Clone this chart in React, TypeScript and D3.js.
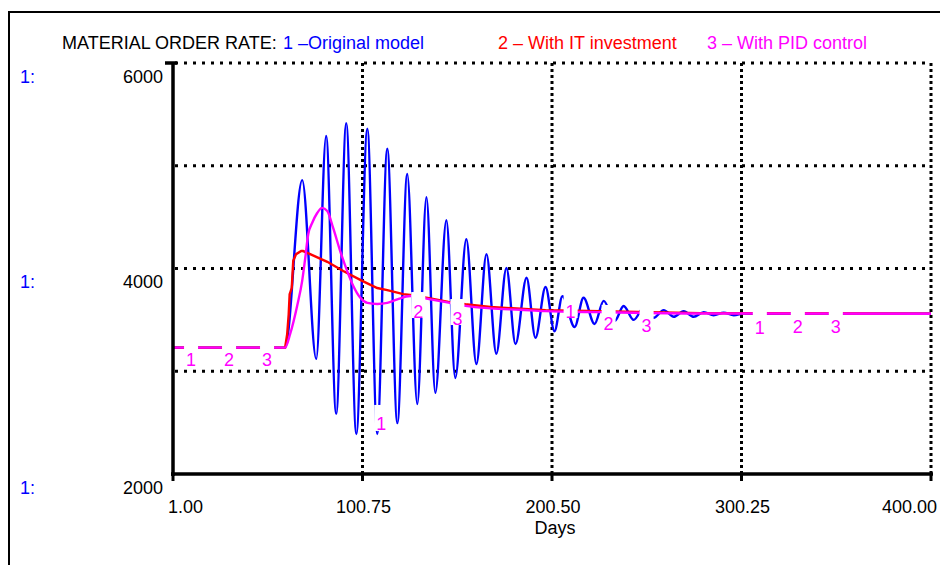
import React, { useEffect, useRef } from "react";
import * as d3 from "d3";

const width = 940;
const height = 565;

// 1 – Original model (turning points of the oscillation)
const originalDays = [
  1, 60, 69, 76.4, 81.6, 86.9, 92.2, 97.5, 103.3, 108.5, 113.8, 119.1, 124.3,
  129.6, 134.4, 139.1, 144.9, 149.6, 155.4, 160.7, 166, 171.2, 176.5, 181.3,
  187.1, 191.8, 197.1, 201.8, 206, 212.4, 217.1, 222.9, 227.7, 233.5, 238.2,
  243.5, 248.7, 254, 259.3, 264.6, 269.8, 275.1, 280.4, 285.6, 290.9, 296.2,
  301.4, 310.4, 400,
];
const originalValues = [
  3230, 3230, 4860, 3120, 5290, 2585, 5415, 2390, 5360, 2390, 5165, 2495, 4920,
  2680, 4695, 2790, 4470, 2935, 4285, 3070, 4140, 3170, 4005, 3265, 3910, 3325,
  3820, 3390, 3730, 3430, 3715, 3460, 3685, 3490, 3635, 3500, 3615, 3520, 3595,
  3530, 3585, 3530, 3575, 3545, 3570, 3545, 3562, 3558, 3560,
];

// 2 – With IT investment
const itDays = [
  1, 60, 61.1, 61.9, 62.4, 63.5, 64.3, 65.8, 68.5, 69.5, 73.2, 82.2, 90.6,
  100.6, 108.5, 113.8, 122.2, 125.9, 136.5, 146, 154.9, 168.1, 183.9, 197.1,
  226.1, 278.8, 400,
];
const itValues = [
  3230, 3230, 3360, 3555, 3750, 3810, 4075, 4140, 4170, 4170, 4140, 4065, 3975,
  3880, 3810, 3790, 3750, 3742, 3708, 3675, 3652, 3625, 3608, 3593, 3584, 3566,
  3560,
];

// 3 – With PID control
const pidDays = [
  1, 60, 62.7, 66.4, 69, 70.6, 72.2, 74.3, 76.9, 79.5, 82.2, 85.3, 89, 92.7,
  95.9, 99.6, 103.3, 108.5, 113.8, 119.1, 125.9, 136.5, 146, 154.9, 168.1,
  183.9, 197.1, 226.1, 278.8, 400,
];
const pidValues = [
  3230, 3230, 3365, 3640, 3880, 4100, 4335, 4445, 4540, 4590, 4560, 4395, 4170,
  3975, 3830, 3715, 3665, 3655, 3665, 3700, 3732, 3700, 3668, 3636, 3612, 3598,
  3585, 3575, 3562, 3560,
];

// curve number labels along the lines
const labelTexts = ["1", "2", "3", "1", "2", "3", "1", "2", "3", "1", "2", "3"];
const labelDays = [10.5, 30.5, 50.5, 110.6, 130.1, 150.7, 210.3, 230.3, 250.3, 309.9, 329.9, 349.9];
const labelValues = [3110, 3110, 3110, 2487, 3586, 3518, 3586, 3460, 3450, 3421, 3440, 3440];

const xTicks = [1, 100.75, 200.5, 300.25, 400];
const yGrid = [3000, 4000, 5000, 6000];
const yLabels = [6000, 4000, 2000];

const font = "'Liberation Sans', Arial, sans-serif";

const App: React.FC = () => {
  const svgRef = useRef<SVGSVGElement>(null);

  useEffect(() => {
    if (!svgRef.current) return;
    const svg = d3.select(svgRef.current);
    svg.selectAll("*").remove();

    const x = d3.scaleLinear().domain([1, 400]).range([173, 931]);
    const y = d3.scaleLinear().domain([2000, 6000]).range([474, 63]);

    // outer frame (only top and left edges fall inside the picture)
    svg
      .append("path")
      .attr("d", `M9,${height} V12 H${width}`)
      .attr("fill", "none")
      .attr("stroke", "black")
      .attr("stroke-width", 2);

    // dotted grid
    const grid = svg.append("g").attr("stroke", "black").attr("stroke-width", 3);
    yGrid.forEach((v) => {
      grid
        .append("line")
        .attr("x1", x(1) + 2)
        .attr("x2", x(400))
        .attr("y1", y(v))
        .attr("y2", y(v))
        .attr("stroke-dasharray", "3,6");
    });
    xTicks.slice(1).forEach((d) => {
      grid
        .append("line")
        .attr("x1", x(d))
        .attr("x2", x(d))
        .attr("y1", y(6000))
        .attr("y2", y(2000))
        .attr("stroke-dasharray", "3,3");
    });

    // lines
    const pts = (days: number[], vals: number[]) =>
      days.map((d, i) => [d, vals[i]] as [number, number]);

    const smooth = d3
      .line<[number, number]>()
      .x((d) => x(d[0]))
      .y((d) => y(d[1]))
      .curve(d3.curveMonotoneX);
    const straight = d3
      .line<[number, number]>()
      .x((d) => x(d[0]))
      .y((d) => y(d[1]));

    svg
      .append("path")
      .attr("d", smooth(pts(originalDays, originalValues)))
      .attr("fill", "none")
      .attr("stroke", "#0000ff")
      .attr("stroke-width", 2.4);
    svg
      .append("path")
      .attr("d", straight(pts(itDays, itValues)))
      .attr("fill", "none")
      .attr("stroke", "#ff0000")
      .attr("stroke-width", 2.4);
    svg
      .append("path")
      .attr("d", smooth(pts(pidDays, pidValues)))
      .attr("fill", "none")
      .attr("stroke", "#ff00ff")
      .attr("stroke-width", 2.4);

    // number labels erase the lines under them
    labelTexts.forEach((t, i) => {
      const cx = x(labelDays[i]);
      const cy = y(labelValues[i]);
      svg
        .append("rect")
        .attr("x", cx - 7)
        .attr("y", cy - 19)
        .attr("width", 14)
        .attr("height", 26)
        .attr("fill", "white");
      svg
        .append("text")
        .attr("x", cx)
        .attr("y", cy + 6.5)
        .attr("text-anchor", "middle")
        .attr("fill", "#ff00ff")
        .style("font-family", font)
        .style("font-size", "18px")
        .text(t);
    });

    // axes
    const axis = svg.append("g").attr("stroke", "black").attr("stroke-width", 3.5);
    axis
      .append("line")
      .attr("x1", x(1))
      .attr("x2", x(1))
      .attr("y1", y(6000) - 1)
      .attr("y2", y(2000) + 2);
    axis
      .append("line")
      .attr("x1", x(1) - 2)
      .attr("x2", x(400) + 2)
      .attr("y1", y(2000))
      .attr("y2", y(2000));
    axis
      .append("line")
      .attr("x1", x(1) - 8)
      .attr("x2", x(1) + 4)
      .attr("y1", y(6000))
      .attr("y2", y(6000));
    xTicks.forEach((d) => {
      axis
        .append("line")
        .attr("x1", x(d))
        .attr("x2", x(d))
        .attr("y1", y(2000))
        .attr("y2", y(2000) + 7)
        .attr("stroke-width", 3);
    });

    // tick labels
    const txt = (sel: d3.Selection<SVGTextElement, unknown, null, undefined>) =>
      sel.style("font-family", font).style("font-size", "18px");

    yLabels.forEach((v) => {
      txt(svg.append("text"))
        .attr("x", 163)
        .attr("y", y(v) + 19.5)
        .attr("text-anchor", "end")
        .attr("fill", "black")
        .text(String(v));
      txt(svg.append("text"))
        .attr("x", 20)
        .attr("y", y(v) + 19.5)
        .attr("fill", "#0000ff")
        .text("1:");
    });

    xTicks.forEach((d, i) => {
      const anchor = i === 0 ? "start" : i === xTicks.length - 1 ? "end" : "middle";
      const px = i === 0 ? x(d) - 5 : i === xTicks.length - 1 ? x(d) + 6 : x(d) + 1;
      txt(svg.append("text"))
        .attr("x", px)
        .attr("y", 513)
        .attr("text-anchor", anchor)
        .text(d.toFixed(2));
    });

    txt(svg.append("text"))
      .attr("x", 555)
      .attr("y", 534)
      .attr("text-anchor", "middle")
      .text("Days");

    // header legend
    txt(svg.append("text")).attr("x", 62).attr("y", 49).attr("fill", "black").text("MATERIAL ORDER RATE:");
    txt(svg.append("text")).attr("x", 283).attr("y", 49).attr("fill", "#0000ff").text("1 \u2013Original model");
    txt(svg.append("text")).attr("x", 498).attr("y", 49).attr("fill", "#ff0000").text("2 \u2013 With IT investment");
    txt(svg.append("text")).attr("x", 707).attr("y", 49).attr("fill", "#ff00ff").text("3 \u2013 With PID control");
  }, []);

  return (
    <svg
      ref={svgRef}
      width={width}
      height={height}
      style={{ position: "absolute", left: 0, top: 0, display: "block", background: "white" }}
    />
  );
};

export default App;
